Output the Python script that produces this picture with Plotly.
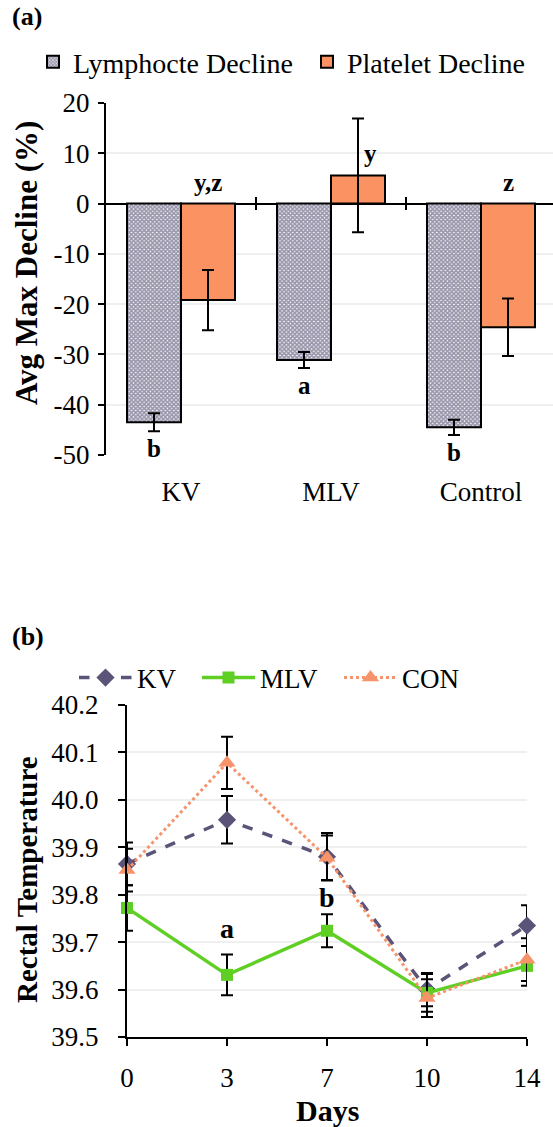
import plotly.graph_objects as go

# ---------------- data ----------------
groups = ["KV", "MLV", "Control"]
lymph_decline = [-43.5, -31.1, -44.5]
lymph_err = [1.8, 1.6, 1.5]
platelet_decline = [-19.2, 5.6, -24.6]
platelet_err = [6.0, 11.3, 5.7]
lymph_letters = ["b", "a", "b"]
platelet_letters = ["y,z", "y", "z"]
decline_ticks = [20, 10, 0, -10, -20, -30, -40, -50]

days = ["0", "3", "7", "10", "14"]
kv_temp = [39.865, 39.958, 39.880, 39.600, 39.735]
kv_err = [0.045, 0.050, 0.050, 0.035, 0.043]
mlv_temp = [39.772, 39.631, 39.724, 39.593, 39.650]
mlv_err = [0.048, 0.043, 0.035, 0.040, 0.042]
con_temp = [39.852, 40.078, 39.878, 39.582, 39.663]
con_err = [0.045, 0.055, 0.047, 0.040, 0.045]
temp_letters = [("3", 39.728, "a"), ("7", 39.795, "b")]

W, H = 553, 1127
SERIF = "Liberation Serif, Times New Roman, serif"

def py(px):
    return 1 - px / H

def pxx(px):
    return px / W

fig = go.Figure()

# ---------------- panel (a) ----------------
fig.add_trace(go.Bar(
    x=groups, y=lymph_decline, name="Lymphocte Decline",
    marker=dict(color="white", line=dict(color="black", width=2),
                pattern=dict(shape="x", fgcolor="#35305a", bgcolor="white", size=3, solidity=0.8)),
    error_y=dict(type="data", array=lymph_err, color="black", thickness=2, width=6),
    xaxis="x", yaxis="y", legend="legend", offsetgroup="l",
))
fig.add_trace(go.Bar(
    x=groups, y=platelet_decline, name="Platelet Decline",
    marker=dict(color="#fa9262", line=dict(color="black", width=2)),
    error_y=dict(type="data", array=platelet_err, color="black", thickness=2, width=6),
    xaxis="x", yaxis="y", legend="legend3", offsetgroup="p",
))

BARGAP = 0.28
half = (1 - BARGAP) / 4  # half of a single bar width (in category units)

annotations = []
for i, (v, e, t) in enumerate(zip(lymph_decline, lymph_err, lymph_letters)):
    annotations.append(dict(x=i - half, y=v - e, xref="x", yref="y", text=f"<b>{t}</b>",
                            showarrow=False, xanchor="center", yanchor="top", yshift=-2,
                            font=dict(family=SERIF, size=25, color="black")))
for i, (v, e, t) in enumerate(zip(platelet_decline, platelet_err, platelet_letters)):
    top = max(v, 0)
    xs = 12 if v > 0 else 0
    annotations.append(dict(x=i + half, y=top, xref="x", yref="y", text=f"<b>{t}</b>",
                            showarrow=False, xanchor="center", yanchor="bottom", yshift=6, xshift=xs,
                            font=dict(family=SERIF, size=25, color="black")))

# category boundary ticks crossing the zero line
shapes = []
for b in [0.5, 1.5]:
    shapes.append(dict(type="line", xref="x", yref="y", x0=b, x1=b, y0=-1.3, y1=1.3,
                       line=dict(color="black", width=2)))

# ---------------- panel (b) ----------------
fig.add_trace(go.Scatter(
    x=days, y=kv_temp, name="KV", mode="lines+markers",
    line=dict(color="#5b5478", width=3.5, dash="dash"),
    marker=dict(symbol="diamond", size=14, color="#5b5478"),
    error_y=dict(type="data", array=kv_err, color="black", thickness=2, width=6),
    xaxis="x2", yaxis="y2", legend="legend2", cliponaxis=False,
))
fig.add_trace(go.Scatter(
    x=days, y=mlv_temp, name="MLV", mode="lines+markers",
    line=dict(color="#5fcf24", width=3.5),
    marker=dict(symbol="square", size=12, color="#5fcf24"),
    error_y=dict(type="data", array=mlv_err, color="black", thickness=2, width=6),
    xaxis="x2", yaxis="y2", legend="legend4", cliponaxis=False,
))
fig.add_trace(go.Scatter(
    x=days, y=con_temp, name="CON", mode="lines+markers",
    line=dict(color="#f7936a", width=3, dash="dot"),
    marker=dict(symbol="triangle-up", size=15, color="#f7936a"),
    error_y=dict(type="data", array=con_err, color="black", thickness=2, width=6),
    xaxis="x2", yaxis="y2", legend="legend5", cliponaxis=False,
))

for d, yv, t in temp_letters:
    annotations.append(dict(x=days.index(d), y=yv, xref="x2", yref="y2", text=f"<b>{t}</b>",
                            showarrow=False, xanchor="center", yanchor="middle",
                            font=dict(family=SERIF, size=28, color="black")))

# panel labels and axis titles
annotations += [
    dict(x=pxx(10), y=py(16), xref="paper", yref="paper", text="<b>(a)</b>", showarrow=False,
         xanchor="left", yanchor="middle", font=dict(family=SERIF, size=26, color="black")),
    dict(x=pxx(10), y=py(636), xref="paper", yref="paper", text="<b>(b)</b>", showarrow=False,
         xanchor="left", yanchor="middle", font=dict(family=SERIF, size=26, color="black")),
    dict(x=pxx(27), y=py(263), xref="paper", yref="paper", text="<b>Avg Max Decline (%)</b>",
         showarrow=False, textangle=-90, xanchor="center", yanchor="middle",
         font=dict(family=SERIF, size=31, color="black")),
    dict(x=pxx(27), y=py(880), xref="paper", yref="paper", text="<b>Rectal Temperature</b>",
         showarrow=False, textangle=-90, xanchor="center", yanchor="middle",
         font=dict(family=SERIF, size=29, color="black")),
    dict(x=pxx(327), y=py(1110), xref="paper", yref="paper", text="<b>Days</b>",
         showarrow=False, xanchor="center", yanchor="middle",
         font=dict(family=SERIF, size=30, color="black")),
]

tickfont = dict(family=SERIF, size=27, color="black")

def leg(xpx, ypx, size, itemwidth=30):
    return dict(orientation="h", x=pxx(xpx), y=py(ypx), xanchor="left", yanchor="middle",
                font=dict(family=SERIF, size=size, color="black"), bgcolor="rgba(0,0,0,0)",
                itemwidth=itemwidth)

fig.update_layout(
    width=W, height=H,
    margin=dict(l=0, r=0, t=0, b=0),
    paper_bgcolor="white", plot_bgcolor="white",
    barmode="group", bargap=BARGAP, bargroupgap=0,
    font=dict(family=SERIF, color="black"),
    annotations=annotations, shapes=shapes,
    xaxis=dict(domain=[pxx(106), 1.0], anchor="y", range=[-0.5, 2.48],
               showline=False, ticks="", showgrid=False, tickfont=tickfont,
               ticklabelstandoff=18, automargin=False, fixedrange=True),
    yaxis=dict(domain=[py(455), py(103)], anchor="x", range=[-50, 20],
               tickvals=decline_ticks, ticktext=[str(t) for t in decline_ticks],
               showline=True, linecolor="black", linewidth=2,
               ticks="outside", ticklen=6, tickwidth=2, tickcolor="black",
               showgrid=True, gridcolor="#efefef", gridwidth=1.5,
               zeroline=True, zerolinecolor="black", zerolinewidth=2,
               tickfont=tickfont, ticklabelstandoff=3, automargin=False),
    xaxis2=dict(domain=[pxx(127), pxx(527)], anchor="y2", type="category", range=[0, 4],
                showline=True, linecolor="black", linewidth=2,
                ticks="outside", ticklen=7, tickwidth=2, tickcolor="black",
                showgrid=False, tickfont=tickfont, ticklabelstandoff=9, automargin=False),
    yaxis2=dict(domain=[py(1037), py(705)], anchor="x2", range=[39.5, 40.2], dtick=0.1,
                tickformat=".1f",
                showline=True, linecolor="black", linewidth=2,
                ticks="outside", ticklen=7, tickwidth=2, tickcolor="black",
                showgrid=True, gridcolor="#efefef", gridwidth=1.5, zeroline=False,
                tickfont=tickfont, ticklabelstandoff=14, automargin=False),
    legend=leg(33, 62, 28),
    legend3=leg(307, 62, 28),
    legend2=leg(74, 678, 27, 53),
    legend4=leg(197, 678, 27, 53),
    legend5=leg(339, 678, 27, 53),
    showlegend=True,
)

fig.write_html("out.html")
